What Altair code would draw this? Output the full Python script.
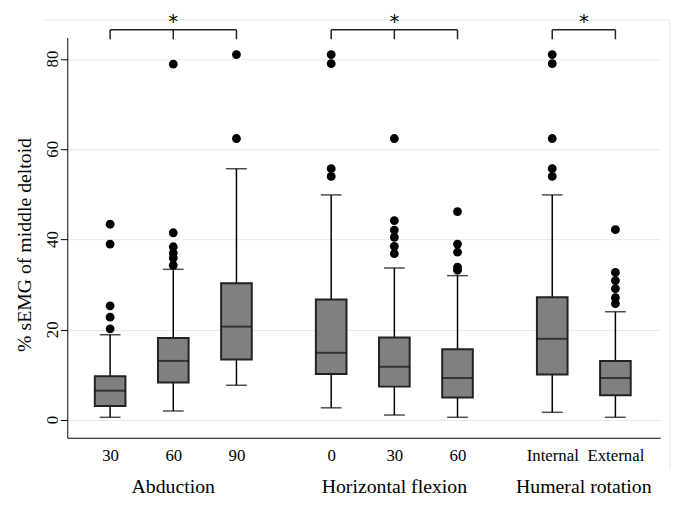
import altair as alt
import pandas as pd

# ---- data ----
positions = [1, 2, 3, 4.5, 5.5, 6.5, 8, 9]
tick_labels = ["30", "60", "90", "0", "30", "60", "Internal", "External"]
lower = [0.6, 2.0, 7.7, 2.7, 1.1, 0.6, 1.7, 0.6]
q1 = [3.1, 8.3, 13.4, 10.2, 7.4, 5.0, 10.1, 5.5]
median = [6.5, 13.1, 20.7, 14.9, 11.8, 9.3, 18.0, 9.3]
q3 = [9.7, 18.2, 30.3, 26.7, 18.3, 15.7, 27.2, 13.1]
upper = [18.9, 33.4, 55.7, 49.9, 33.7, 32.0, 49.9, 24.0]
outliers = [
    [20.2, 22.8, 25.3, 39.0, 43.4],
    [34.3, 35.9, 37.0, 38.4, 41.5, 78.9],
    [62.4, 81.0],
    [54.0, 55.7, 79.0, 81.0],
    [36.9, 38.5, 40.5, 42.1, 44.2, 62.4],
    [33.2, 33.9, 37.2, 39.0, 46.2],
    [54.0, 55.7, 62.4, 79.0, 81.0],
    [25.8, 27.1, 29.1, 30.9, 32.7, 42.2],
]
y_ticks = [0, 20, 40, 60, 80]
y_title = "% sEMG of middle deltoid"
group_names = ["Abduction", "Horizontal flexion", "Humeral rotation"]
group_centers = [2, 5.5, 8.5]
bracket_start = [1, 4.5, 8]
bracket_end = [3, 6.5, 9]
bracket_mid = [2, 5.5]

# ---- layout constants ----
FONT = "Liberation Serif"
BR_TOP = 86.5
BR_DROP = 84.4
STAR_Y = 86.9
GROUP_Y = -14.8
YLAB_X = 0.092
YTITLE_X = -0.354
YTITLE_Y = 38.8

x_scale = alt.Scale(domain=[0.4, 9.631], nice=False, zero=False)
y_scale = alt.Scale(domain=[-3.943, 84.776], nice=False, zero=False)

boxes = pd.DataFrame({"pos": positions, "lower": lower, "q1": q1,
                      "median": median, "q3": q3, "upper": upper})
out_df = pd.DataFrame([{"pos": p, "v": v} for p, vals in zip(positions, outliers) for v in vals])
groups_df = pd.DataFrame({"pos": group_centers, "name": group_names, "y": [GROUP_Y] * 3})
br_df = pd.DataFrame({"x1": bracket_start, "x2": bracket_end,
                      "xc": [(a + b) / 2 for a, b in zip(bracket_start, bracket_end)],
                      "top": [BR_TOP] * 3, "drop": [BR_DROP] * 3, "star": [STAR_Y] * 3})
drops_df = pd.DataFrame({"x": bracket_start + bracket_end + bracket_mid,
                         "top": BR_TOP, "drop": BR_DROP})
frame_top = pd.DataFrame({"x1": [-0.077], "x2": [9.862], "y": [88.7]})
frame_right = pd.DataFrame({"x": [9.862], "y1": [88.7], "y2": [-10.95]})
ylab_df = pd.DataFrame({"x": [YLAB_X] * len(y_ticks), "v": y_ticks,
                        "t": [str(v) for v in y_ticks]})
ytitle_df = pd.DataFrame({"x": [YTITLE_X], "y": [YTITLE_Y], "t": [y_title]})

label_expr = " : ".join(
    f"datum.value == {p} ? '{t}'" for p, t in zip(positions, tick_labels)
) + " : ''"

x_axis = alt.Axis(values=positions, labelExpr=label_expr, ticks=False, grid=False,
                  domainColor="black", domainWidth=1, labelFont=FONT, labelFontSize=17,
                  labelColor="black", labelPadding=10, title=None)
y_axis = alt.Axis(values=y_ticks, grid=True, gridColor="#e8e8e8", gridWidth=1,
                  domainColor="black", domainWidth=1, tickColor="black", tickSize=7,
                  labels=False, title=None)

X = lambda f: alt.X(f, scale=x_scale, axis=x_axis)
Y = lambda f: alt.Y(f, scale=y_scale, axis=y_axis)

base = alt.Chart(boxes)

whisk = base.mark_rule(color="black", strokeWidth=1.5).encode(
    x=X("pos:Q"), y=Y("lower:Q"), y2="upper:Q")
cap_lo = base.mark_tick(orient="horizontal", size=21, thickness=1.5, color="black").encode(
    x=X("pos:Q"), y=Y("lower:Q"))
cap_hi = base.mark_tick(orient="horizontal", size=21, thickness=1.5, color="black").encode(
    x=X("pos:Q"), y=Y("upper:Q"))
box = base.mark_bar(size=31, fill="#808080", stroke="#222222", strokeWidth=2).encode(
    x=X("pos:Q"), y=Y("q1:Q"), y2="q3:Q")
med = base.mark_tick(orient="horizontal", size=31, thickness=2, color="#111111").encode(
    x=X("pos:Q"), y=Y("median:Q"))
pts = alt.Chart(out_df).mark_circle(size=80, color="black", opacity=1).encode(
    x=X("pos:Q"), y=Y("v:Q"))

br_h = alt.Chart(br_df).mark_rule(color="#222222", strokeWidth=1.5).encode(
    x=X("x1:Q"), x2="x2:Q", y=Y("top:Q"))
br_v = alt.Chart(drops_df).mark_rule(color="#222222", strokeWidth=1.5).encode(
    x=X("x:Q"), y=Y("top:Q"), y2="drop:Q")
stars = alt.Chart(br_df).mark_text(text="*", font="DejaVu Sans", fontSize=20, color="black",
                                   baseline="alphabetic").encode(
    x=X("xc:Q"), y=Y("star:Q"))
glabels = alt.Chart(groups_df).mark_text(font=FONT, fontSize=20, color="black",
                                         baseline="middle").encode(
    x=X("pos:Q"), y=Y("y:Q"), text="name:N")
ylabels = alt.Chart(ylab_df).mark_text(font=FONT, fontSize=17, color="black", angle=270,
                                       align="center", baseline="middle").encode(
    x=X("x:Q"), y=Y("v:Q"), text="t:N")
ytitle = alt.Chart(ytitle_df).mark_text(font=FONT, fontSize=20, color="black", angle=270,
                                        align="center", baseline="middle").encode(
    x=X("x:Q"), y=Y("y:Q"), text="t:N")
f_top = alt.Chart(frame_top).mark_rule(color="#eeeeee", strokeWidth=1.5).encode(
    x=X("x1:Q"), x2="x2:Q", y=Y("y:Q"))
f_right = alt.Chart(frame_right).mark_rule(color="#eeeeee", strokeWidth=1.5).encode(
    x=X("x:Q"), y=Y("y1:Q"), y2="y2:Q")

chart = alt.layer(
    f_top, f_right, whisk, cap_lo, cap_hi, box, med, pts, br_h, br_v, stars, glabels,
    ylabels, ytitle
).properties(
    width=600, height=405,
    autosize=alt.AutoSizeParams(type="none"),
    padding={"left": 60, "top": 27, "right": 17, "bottom": 57},
    background="white",
).configure_view(stroke=None)

chart.save("out.html", embed_options={"renderer": "svg", "actions": False})
